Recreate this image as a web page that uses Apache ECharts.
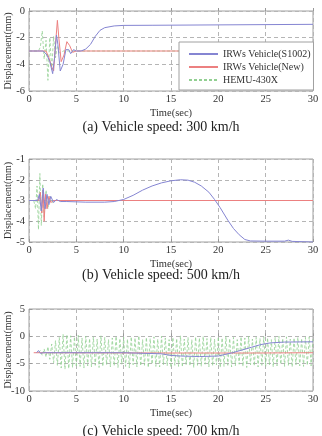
<!DOCTYPE html>
<html>
<head>
<meta charset="utf-8">
<script src="https://cdn.jsdelivr.net/npm/echarts@6/dist/echarts.min.js"></script>
<style>
  html, body { margin: 0; padding: 0; background: #fff; }
  #main { width: 322px; height: 436px; }
</style>
</head>
<body>
<div id="main"></div>
<script>
// series names
const names = ['IRWs Vehicle(S1002)', 'IRWs Vehicle(New)', 'HEMU-430X'];
const captions = ['(a) Vehicle speed: 300 km/h', '(b) Vehicle speed: 500 km/h', '(c) Vehicle speed: 700 km/h'];

// (a) 300 km/h : [time, displacement]
const blue1 = [[0,-3],[1.5,-3],[1.9,-3.3],[2.2,-3.8],[2.5,-4.7],[2.7,-3.5],[2.9,-1.8],[3.05,-2.5],[3.3,-4.5],[3.6,-4.0],
  [3.9,-2.9],[4.2,-2.9],[4.4,-3.2],[4.7,-2.9],[5,-3],[5.5,-3.0],[6,-2.85],[6.5,-2.5],[7,-1.9],[7.5,-1.45],[8,-1.25],
  [9,-1.12],[10,-1.08],[13,-1.07],[13.2,-1.0],[30,-1.0]];
const red1 = [[0,-3],[1.8,-3],[2.1,-3.5],[2.4,-4.2],[2.6,-4.5],[2.8,-2.5],[3.0,-0.7],[3.15,-2],[3.4,-3.8],[3.7,-3.3],
  [4.0,-2.3],[4.3,-2.6],[4.6,-3.1],[5,-3],[30,-3]];
const green1 = [[0,-3],[1.0,-3],[1.2,-2.7],[1.4,-1.5],[1.6,-3.6],[1.8,-2.2],[2.0,-5.2],[2.2,-2.0],[2.4,-4.4],[2.6,-1.9],
  [2.8,-3.5],[3.0,-2.6],[3.3,-3.2],[3.6,-3],[30,-3]];

// (b) 500 km/h
const blue2 = [[0,-3],[0.9,-3],[1.1,-2.7],[1.3,-3.5],[1.5,-2.4],[1.7,-3.4],[1.9,-2.7],[2.1,-3.2],[2.3,-2.8],[2.6,-3.1],
  [2.9,-2.95],[3.3,-3.05],[4,-3.05],[6,-3.08],[8,-3.08],[9,-3.05],[10,-2.95],[11,-2.75],[12,-2.5],[13,-2.3],[14,-2.15],
  [15,-2.05],[16,-2.0],[16.8,-2.02],[17.5,-2.12],[18.2,-2.3],[19,-2.6],[19.6,-2.95],[20.2,-3.35],[21,-3.95],[21.6,-4.35],
  [22.2,-4.65],[22.8,-4.88],[23.4,-4.95],[25,-4.96],[27,-4.96],[27.4,-4.91],[27.8,-4.97],[30,-5]];
const red2 = [[0,-3],[1.0,-3],[1.2,-2.6],[1.35,-3.6],[1.5,-2.5],[1.6,-4.0],[1.75,-2.7],[1.9,-3.4],[2.1,-2.8],[2.3,-3.1],
  [2.6,-3],[30,-3]];
const green2 = [[0,-3],[0.5,-3],[0.7,-3.4],[0.85,-2.3],[1.0,-4.4],[1.15,-1.7],[1.3,-4.2],[1.45,-2.2],[1.6,-3.8],[1.8,-2.5],
  [2.0,-3.4],[2.2,-2.8],[2.5,-3.1],[2.8,-3],[30,-3]];

// (c) 700 km/h
const blue3 = [[0.8,-3],[1.0,-2.6],[1.2,-3.1],[1.5,-3],[5,-3],[10,-3],[14,-3.2],[15,-3.5],[16,-3.6],[18,-3.7],[20,-3.6],
  [20.5,-3.4],[21.5,-3],[22.5,-2.5],[23.5,-2],[24.5,-1.5],[25.5,-1.2],[27,-1.05],[30,-1.0]];
const red3 = [[0.5,-3],[15,-3.05],[24,-3.05],[30,-3]];
// HEMU-430X sampled every 0.2 s from t = 1.0 s
const green3Start = 1.0, green3Step = 0.2;
const green3 = [
  -3.0, -2.6, -3.5, -2.3, -3.8, -1.9, -4.2, -1.4, -4.8, -0.8,
  -5.3, -0.2, -5.8, 0.4, -6.0, 0.3, -5.9, 0.1, -5.7, -0.1,
  -5.6, 0.2, -5.5, -0.3, -5.8, 0.0, -5.4, -0.4, -5.6, -0.1,
  -5.3, -0.5, -5.7, 0.1, -5.5, -0.2, -5.2, -0.6, -5.6, -0.3,
  -5.4, 0.0, -5.7, -0.4, -5.1, -0.2, -5.5, -0.5, -5.8, -0.1,
  -5.2, -0.3, -5.6, 0.1, -5.4, -0.6, -5.3, -0.2, -5.7, -0.4,
  -5.1, -0.1, -5.5, -0.5, -5.6, 0.0, -5.2, -0.3, -5.4, -0.6,
  -5.7, -0.2, -5.3, -0.4, -5.5, 0.1, -5.6, -0.5, -5.2, -0.2,
  -5.4, -0.6, -5.7, -0.1, -5.3, -0.3, -5.5, 0.0, -5.1, -0.4,
  -5.6, -0.2, -5.4, -0.5, -5.2, -0.1, -5.7, -0.3, -5.5, 0.0,
  -5.3, -0.4, -5.6, -0.2, -5.4, -0.6, -5.1, -0.1, -5.5, -0.3,
  -5.7, 0.0, -5.2, -0.5, -5.4, -0.2, -5.6, -0.4, -5.3, -0.1,
  -5.5, -0.3, -5.2, -0.6, -5.6, -0.2, -5.4, 0.0, -5.1, -0.4,
  -5.5, -0.1, -5.3, -0.5, -5.6, -0.3, -5.2, -0.2, -5.4, -0.4,
  -5.5, -0.2, -5.3, -0.1, -5.4, -0.3
];

const yRanges = [[-6, 0, 2], [-5, -1, 1], [-10, 5, 5]];

const FONT = '"Liberation Serif", "Times New Roman", serif';
const colors = ['#8585d2', '#ec8080', '#92d092'];

const chart = echarts.init(document.getElementById('main'));

// plot boxes (top, height)
const boxes = [[11, 80], [159, 83], [309, 82]];
const captionTops = [120, 268, 424];

const grids = boxes.map(b => ({
  left: 29, right: 9, top: b[0], height: b[1],
  containLabel: false, outerBoundsMode: 'none',
  show: true, borderColor: '#a0a0a0', borderWidth: 1, backgroundColor: 'transparent'
}));

const xAxes = boxes.map((b, i) => ({
  type: 'value', gridIndex: i, min: 0, max: 30, interval: 5,
  name: 'Time(sec)', nameLocation: 'middle', nameGap: 17, nameMoveOverlap: false,
  nameTextStyle: { fontFamily: FONT, fontSize: 10.5, color: '#333' },
  axisLine: { show: false },
  axisTick: { show: true, inside: true, length: 3, lineStyle: { color: '#999' } },
  axisLabel: { fontFamily: FONT, fontSize: 10.5, color: '#333', margin: 3 },
  splitLine: { show: true, lineStyle: { type: [4, 3], color: '#b5b5b5', width: 1 } }
}));

const yAxes = yRanges.map((r, i) => ({
  type: 'value', gridIndex: i, min: r[0], max: r[1], interval: r[2],
  name: 'Displacement(mm)', nameLocation: 'middle', nameGap: 16, nameMoveOverlap: false,
  nameTextStyle: { fontFamily: FONT, fontSize: 10, color: '#333' },
  axisLine: { show: false },
  axisTick: { show: true, inside: true, length: 3, lineStyle: { color: '#999' } },
  axisLabel: { fontFamily: FONT, fontSize: 10.5, color: '#333', margin: 4 },
  splitLine: { show: true, lineStyle: { type: [4, 3], color: '#b5b5b5', width: 1 } }
}));

function line(name, data, gi, ci, dashed) {
  return {
    name: name, type: 'line', xAxisIndex: gi, yAxisIndex: gi, data: data,
    symbol: 'none', silent: true, animation: false, z: dashed ? 2 : (ci === 0 ? 4 : 3),
    lineStyle: { color: colors[ci], width: dashed ? 0.8 : 1, type: dashed ? [3, 2] : 'solid' },
    itemStyle: { color: colors[ci] }
  };
}

const green3Pts = green3.map((v, k) => [+(green3Start + k * green3Step).toFixed(2), v]);

const series = [
  line(names[2], green1, 0, 2, true),
  line(names[1], red1, 0, 1, false),
  line(names[0], blue1, 0, 0, false),
  line(names[2], green2, 1, 2, true),
  line(names[1], red2, 1, 1, false),
  line(names[0], blue2, 1, 0, false),
  line(names[2], green3Pts, 2, 2, true),
  line(names[1], red3, 2, 1, false),
  line(names[0], blue3, 2, 0, false)
];

chart.setOption({
  backgroundColor: '#fff',
  animation: false,
  title: captions.map((c, i) => ({
    text: c, left: 'center', top: captionTops[i], padding: 0,
    textStyle: { fontFamily: FONT, fontSize: 14, fontWeight: 'normal', color: '#222' }
  })),
  legend: {
    data: names, orient: 'vertical', left: 179, top: 42,
    itemWidth: 29, itemHeight: 10, itemGap: 3,
    padding: [7, 3, 5, 9],
    itemStyle: { opacity: 0 },
    backgroundColor: '#fff', borderColor: '#a0a0a0', borderWidth: 1,
    textStyle: { fontFamily: FONT, fontSize: 10, color: '#333' },
    selectedMode: false
  },
  grid: grids,
  xAxis: xAxes,
  yAxis: yAxes,
  series: series
});
</script>
</body>
</html>
